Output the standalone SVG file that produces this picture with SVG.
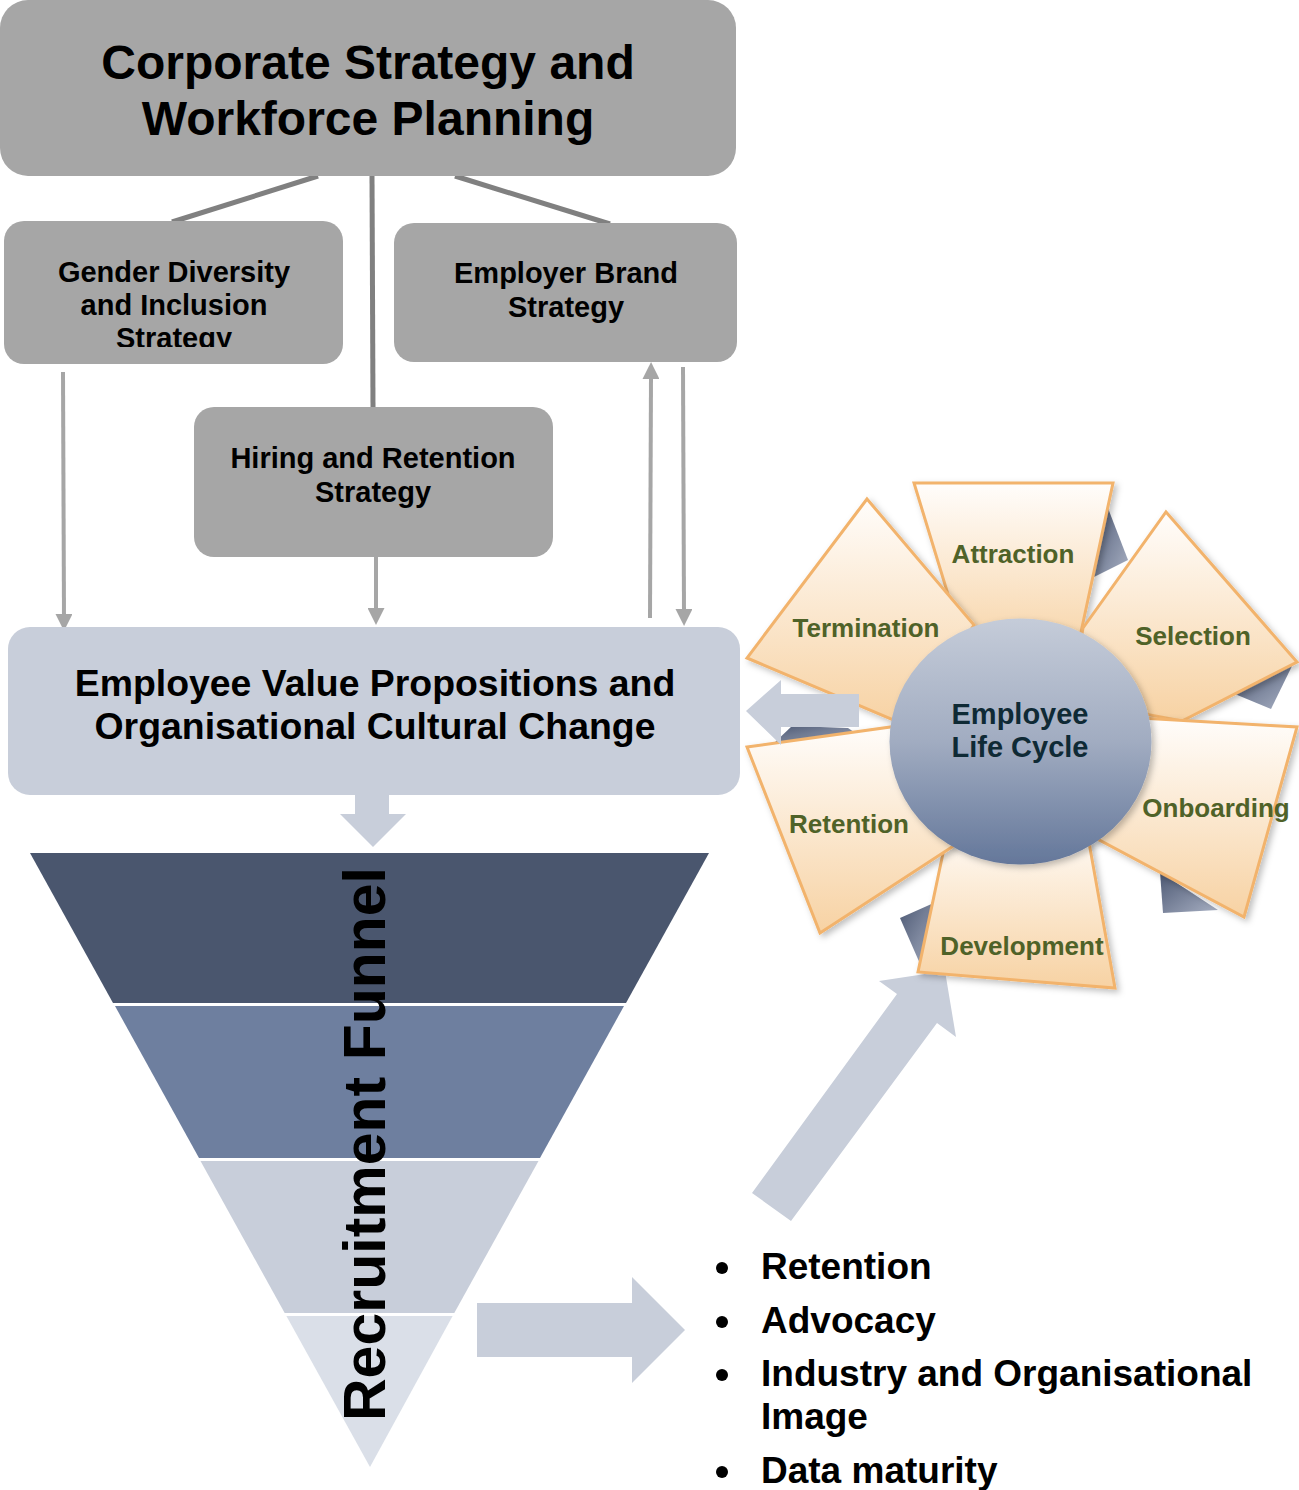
<svg xmlns="http://www.w3.org/2000/svg" width="1299" height="1490" viewBox="0 0 1299 1490">
  <defs>
    <style>
      .box { fill: #a6a6a6; }
      .evp { fill: #c8ceda; }
      .t { font-family: "Liberation Sans", Arial, sans-serif; font-weight: bold; fill: #000; text-anchor: middle; }
      .node { font-size: 29px; }
      .petal { fill: url(#petalGrad); stroke: #f2b36c; stroke-width: 3; stroke-linejoin: miter; filter: url(#soft); }
      .fold { fill: url(#foldGrad); }
      .plabel { font-family: "Liberation Sans", Arial, sans-serif; font-weight: bold; font-size: 26px; fill: #4f6228; text-anchor: middle; }
      .link { stroke: #808080; stroke-width: 5; fill: none; }
      .flow { stroke: #a6a6a6; stroke-width: 4; fill: none; marker-end: url(#ah); }
      .block { fill: #c8ceda; }
      .bullet { font-family: "Liberation Sans", Arial, sans-serif; font-weight: bold; font-size: 37px; fill: #000; }
    </style>
    <marker id="ah" markerWidth="17" markerHeight="17" refX="4" refY="8.5" orient="auto" markerUnits="userSpaceOnUse">
      <path d="M0,0 L17,8.5 L0,17 z" fill="#a6a6a6"/>
    </marker>
    <linearGradient id="petalGrad" x1="0" y1="0" x2="0" y2="1">
      <stop offset="0" stop-color="#fffdfb"/>
      <stop offset="1" stop-color="#f7d2a3"/>
    </linearGradient>
    <linearGradient id="foldGrad" x1="0" y1="0" x2="1" y2="1">
      <stop offset="0" stop-color="#4c5873"/>
      <stop offset="1" stop-color="#a8b0c3"/>
    </linearGradient>
    <linearGradient id="hubGrad" x1="0" y1="0" x2="0" y2="1">
      <stop offset="0" stop-color="#c5ccd9"/>
      <stop offset="0.5" stop-color="#a1acc1"/>
      <stop offset="1" stop-color="#64779a"/>
    </linearGradient>
    <filter id="soft" x="-10%" y="-10%" width="130%" height="130%">
      <feDropShadow dx="3" dy="3" stdDeviation="3" flood-color="#000" flood-opacity="0.25"/>
    </filter>
    <clipPath id="genderClip">
      <rect x="4" y="221" width="339" height="126"/>
    </clipPath>
  </defs>

  <!-- connectors -->
  <g id="connectors">
    <line class="link" x1="318" y1="176" x2="172" y2="222"/>
    <line class="link" x1="372" y1="176" x2="373" y2="408"/>
    <line class="link" x1="455" y1="176" x2="610" y2="224"/>
    <path class="flow" d="M63,372 L64,618"/>
    <path class="flow" d="M376,557 L376,612"/>
    <path class="flow" d="M650,618 L651,375"/>
    <path class="flow" d="M683,367 L684,613"/>
  </g>

  <!-- strategy boxes -->
  <g id="corporate-strategy">
    <rect class="box" x="0" y="0" width="736" height="176" rx="28"/>
    <text class="t" x="368" y="79" font-size="48">Corporate Strategy and</text>
    <text class="t" x="368" y="135" font-size="48">Workforce Planning</text>
  </g>
  <g id="gender-diversity">
    <rect class="box" x="4" y="221" width="339" height="143" rx="20"/>
    <g clip-path="url(#genderClip)">
      <text class="t node" x="174" y="282">Gender Diversity</text>
      <text class="t node" x="174" y="315">and Inclusion</text>
      <text class="t node" x="174" y="348">Strategy</text>
    </g>
  </g>
  <g id="employer-brand">
    <rect class="box" x="394" y="223" width="343" height="139" rx="20"/>
    <text class="t node" x="566" y="283">Employer Brand</text>
    <text class="t node" x="566" y="317">Strategy</text>
  </g>
  <g id="hiring-retention">
    <rect class="box" x="194" y="407" width="359" height="150" rx="20"/>
    <text class="t node" x="373" y="468">Hiring and Retention</text>
    <text class="t node" x="373" y="502">Strategy</text>
  </g>

  <!-- value propositions -->
  <g id="evp">
    <rect class="evp" x="8" y="627" width="732" height="168" rx="22"/>
    <text class="t" x="375" y="696" font-size="37.4">Employee Value Propositions and</text>
    <text class="t" x="375" y="739" font-size="37.4">Organisational Cultural Change</text>
  </g>

  <!-- down block arrow into funnel -->
  <polygon class="block" points="355,795 389,795 389,814 406,814 373,847 340,814 355,814"/>

  <!-- recruitment funnel -->
  <g id="funnel">
    <polygon fill="#4a566e" points="30,853 709,853 626,1003 113,1003"/>
    <polygon fill="#6e7f9f" points="115,1006 624,1006 540,1158 199,1158"/>
    <polygon fill="#c8ceda" points="200.5,1161 538.5,1161 454.3,1313 284.7,1313"/>
    <polygon fill="#dadfe8" points="286.4,1316 452.6,1316 370,1467"/>
    <text class="t" font-size="59" transform="translate(385,1144) rotate(-90)">Recruitment Funnel</text>
  </g>

  <!-- funnel outcome arrow -->
  <polygon class="block" points="477,1303 632,1303 632,1277 685,1330 632,1383 632,1357 477,1357"/>

  <!-- outcomes list -->
  <g id="outcomes">
    <circle cx="722" cy="1268" r="6"/>
    <circle cx="722" cy="1322" r="6"/>
    <circle cx="722" cy="1375" r="6"/>
    <circle cx="722" cy="1472" r="6"/>
    <text class="bullet" x="761" y="1279">Retention</text>
    <text class="bullet" x="761" y="1333">Advocacy</text>
    <text class="bullet" x="761" y="1386">Industry and Organisational</text>
    <text class="bullet" x="761" y="1429">Image</text>
    <text class="bullet" x="761" y="1483">Data maturity</text>
  </g>

  <!-- diagonal arrow toward the life cycle -->
  <polygon class="block" points="752,1193 897,994 879,981 945,971 956,1037 937,1023 791,1221"/>

  <!-- employee life cycle -->
  <g id="life-cycle">
    <g id="folds">
      <polygon class="fold" points="1106,503 1128,560 1092,578"/>
      <polygon class="fold" points="1292,666 1271,709 1230,692"/>
      <polygon class="fold" points="1160,872 1163,913 1218,910"/>
      <polygon class="fold" points="900,918 936,902 921,966"/>
      <polygon class="fold" points="772,745 792,726 848,728 860,736 800,744"/>
    </g>
    <g id="attraction">
      <polygon class="petal" points="914,483 1113,483 1075,660 968,660"/>
      <text class="plabel" x="1013" y="563">Attraction</text>
    </g>
    <g id="termination">
      <polygon class="petal" points="867,499 974,625 905,725 747,658"/>
      <text class="plabel" x="866" y="637">Termination</text>
    </g>
    <g id="selection">
      <polygon class="petal" points="1166,512 1297,662 1182,721 1070,700 1083,628"/>
      <text class="plabel" x="1193" y="645">Selection</text>
    </g>
    <g id="onboarding">
      <polygon class="petal" points="1140,718 1297,727 1244,917 1090,835"/>
      <text class="plabel" x="1216" y="817">Onboarding</text>
    </g>
    <g id="development">
      <polygon class="petal" points="950,820 1085,820 1115,988 918,972"/>
      <text class="plabel" x="1022" y="955">Development</text>
    </g>
    <g id="retention">
      <polygon class="petal" points="747,747 905,725 955,845 820,933"/>
      <text class="plabel" x="849" y="833">Retention</text>
    </g>
    <g id="hub">
      <ellipse cx="1020.5" cy="741.5" rx="131" ry="123" fill="url(#hubGrad)" filter="url(#soft)"/>
      <text class="t" x="1020" y="724" font-size="29" style="fill:#0f2a35">Employee</text>
      <text class="t" x="1020" y="757" font-size="29" style="fill:#0f2a35">Life Cycle</text>
    </g>
  </g>

  <!-- arrow from life cycle back to value propositions -->
  <polygon class="block" points="859,694 781,694 781,680 746,711 781,745 781,727 859,727"/>
</svg>
